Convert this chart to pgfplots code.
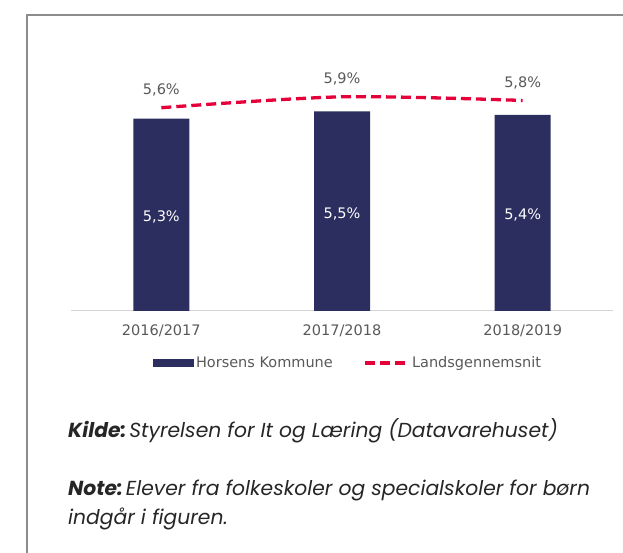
\documentclass[border=0pt]{standalone}
\usepackage{pgfplots}
\pgfplotsset{compat=1.18}
\usepackage{fontspec}
\setmainfont{DejaVu Sans}
\newfontfamily\poppins{Poppins}
\definecolor{navy}{HTML}{2B2E5F}
\definecolor{lred}{HTML}{E5003A}
\definecolor{txt}{HTML}{595959}
\newcommand{\cfont}{\fontsize{14.5bp}{17bp}\selectfont}
\newcommand{\nfont}{\poppins\fontsize{20.3bp}{29bp}\selectfont\itshape}
\begin{document}
\begin{tikzpicture}[x=1bp,y=1bp]
\useasboundingbox (0,0) rectangle (623,553);
\draw[color=gray!90, line width=1.2bp] (27,0) -- (27,538) -- (623,538);
\begin{axis}[
  at={(71bp,242bp)}, anchor=south west,
  scale only axis, width=542bp, height=272.25bp,
  xmin=-0.5, xmax=2.5, ymin=0, ymax=7.5,
  axis x line=bottom, axis y line=none,
  x axis line style={-, draw=black!17, line width=1bp},
  xtick={0,1,2}, xticklabels={2016/2017,2017/2018,2018/2019},
  major tick length=0, ytick=\empty,
  xticklabel style={font=\cfont, text=txt, anchor=base, yshift=-25bp},
  clip=false,
  legend columns=2,
  legend style={draw=none, fill=none, font=\cfont, text=txt,
    at={(0.5,0)}, anchor=center, yshift=-52bp, xshift=6bp,
    /tikz/every even column/.append style={column sep=29bp}},
  legend cell align=left,
]
\addplot[ybar, bar width=56bp, bar shift=0pt, fill=navy, draw=none,
  nodes near coords, point meta=explicit symbolic,
  visualization depends on={y \as \rawy},
  every node near coord/.append style={shift={(axis direction cs:0,-\rawy/2)}, anchor=base, yshift=-7bp, text=white, font=\cfont},
  legend image code/.code={\fill[navy] (0bp,-4bp) rectangle (41bp,4bp);}]
  coordinates {(0,5.3) [{5,3\%}] (1,5.5) [{5,5\%}] (2,5.4) [{5,4\%}]};
\addlegendentry{Horsens Kommune}
\addplot[lred, line width=3.3bp, dash pattern=on 10bp off 5bp, smooth,
  nodes near coords, point meta=explicit symbolic,
  every node near coord/.append style={anchor=base, yshift=13bp, text=txt, font=\cfont},
  legend image code/.code={\draw[lred, line width=3.3bp, dash pattern=on 10bp off 5bp] (0bp,0bp) -- (40bp,0bp);}]
  coordinates {(0,5.6) [{5,6\%}] (1,5.9) [{5,9\%}] (2,5.8) [{5,8\%}]};
\addlegendentry{\hspace{3bp}Landsgennemsnit}
\end{axis}
\node[anchor=base west, inner sep=0pt, text=black!85] at (68,115) {\nfont{\bfseries Kilde:}\hspace{0.15em}Styrelsen for It og Læring (Datavarehuset)};
\node[anchor=base west, inner sep=0pt, text=black!85] at (68,57) {\nfont{\bfseries Note:}\hspace{0.15em}Elever fra folkeskoler og specialskoler for børn};
\node[anchor=base west, inner sep=0pt, text=black!85] at (68,28) {\nfont indgår i figuren.};
\end{tikzpicture}
\end{document}
